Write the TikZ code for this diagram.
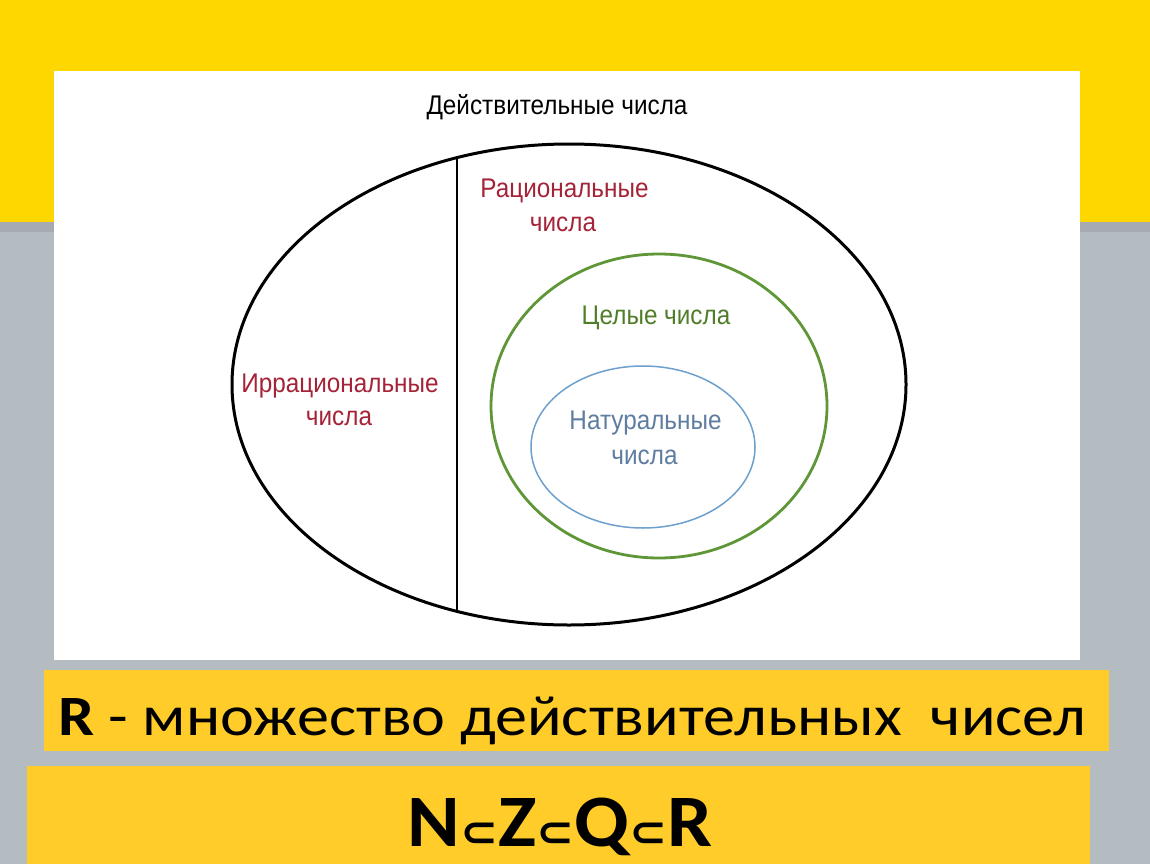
\documentclass[tikz,border=0pt]{standalone}
\usepackage{fontspec}
\setmainfont{Liberation Sans}
\newfontfamily\bannerfont{Carlito}
\newfontfamily\symfont{DejaVu Sans}
\definecolor{topyellow}{RGB}{255,215,0}
\definecolor{slategray}{RGB}{181,188,193}
\definecolor{banneryellow}{RGB}{255,204,41}
\definecolor{ratred}{RGB}{165,35,55}
\definecolor{intgreen}{RGB}{95,150,55}
\definecolor{intgreentext}{RGB}{80,125,40}
\definecolor{natblue}{RGB}{110,160,205}
\definecolor{natbluetext}{RGB}{95,125,160}
\tikzset{
  lbl/.style={font=\fontsize{27}{30}\selectfont, inner sep=0pt, anchor=base, xscale=0.9},
}
\begin{document}
\begin{tikzpicture}[x=1pt,y=-1pt]
\useasboundingbox (0,0) rectangle (1150,864);
% background
\fill[slategray] (0,0) rectangle (1150,864);
\fill[topyellow] (0,0) rectangle (1150,222);
\fill[slategray!75!black, opacity=0.35] (0,222) rectangle (1150,232);
% white panel
\fill[white] (54,71) rectangle (1080,660);
% title
\node[lbl, text=black] (title) at (557,114) {Действительные числа};
% real numbers ellipse
\draw[line width=3pt, black] (569,384.5) ellipse[x radius=337, y radius=240.5];
\begin{scope}
  \clip (569,384.5) ellipse[x radius=337, y radius=240.5];
  \draw[line width=2.2pt, black] (457,100) -- (457,700);
\end{scope}
% integers
\draw[line width=2.8pt, intgreen] (659,406) ellipse[x radius=168, y radius=152];
% naturals
\draw[line width=1.5pt, natblue] (643,447) ellipse[x radius=112, y radius=81];
% labels
\node[lbl, text=ratred] (rat1) at (564.5,197) {Рациональные};
\node[lbl, text=ratred] (rat2) at (563,231) {числа};
\node[lbl, text=ratred] (irr1) at (340,392) {Иррациональные};
\node[lbl, text=ratred] (irr2) at (339,425) {числа};
\node[lbl, text=intgreentext] (int) at (656,324) {Целые числа};
\node[lbl, text=natbluetext] (nat1) at (645.5,429) {Натуральные};
\node[lbl, text=natbluetext] (nat2) at (644.5,464) {числа};
% banners
\fill[banneryellow] (44,670) rectangle (1109,751);
\fill[banneryellow] (27,766) rectangle (1090,864);
\node[anchor=base west, inner sep=0pt, xscale=1.125, font=\bannerfont\fontsize{57}{62}\selectfont] (def) at (58,735) {\textbf{R} - множество действительных \ чисел};
\node[anchor=base, inner sep=0pt, xscale=1.08, font=\bannerfont\bfseries\fontsize{74}{78}\selectfont] (chain) at (560,846) {N{\symfont\bfseries\fontsize{42}{42}\selectfont ⊂}Z{\symfont\bfseries\fontsize{42}{42}\selectfont ⊂}Q{\symfont\bfseries\fontsize{42}{42}\selectfont ⊂}R};
\end{tikzpicture}
\end{document}
